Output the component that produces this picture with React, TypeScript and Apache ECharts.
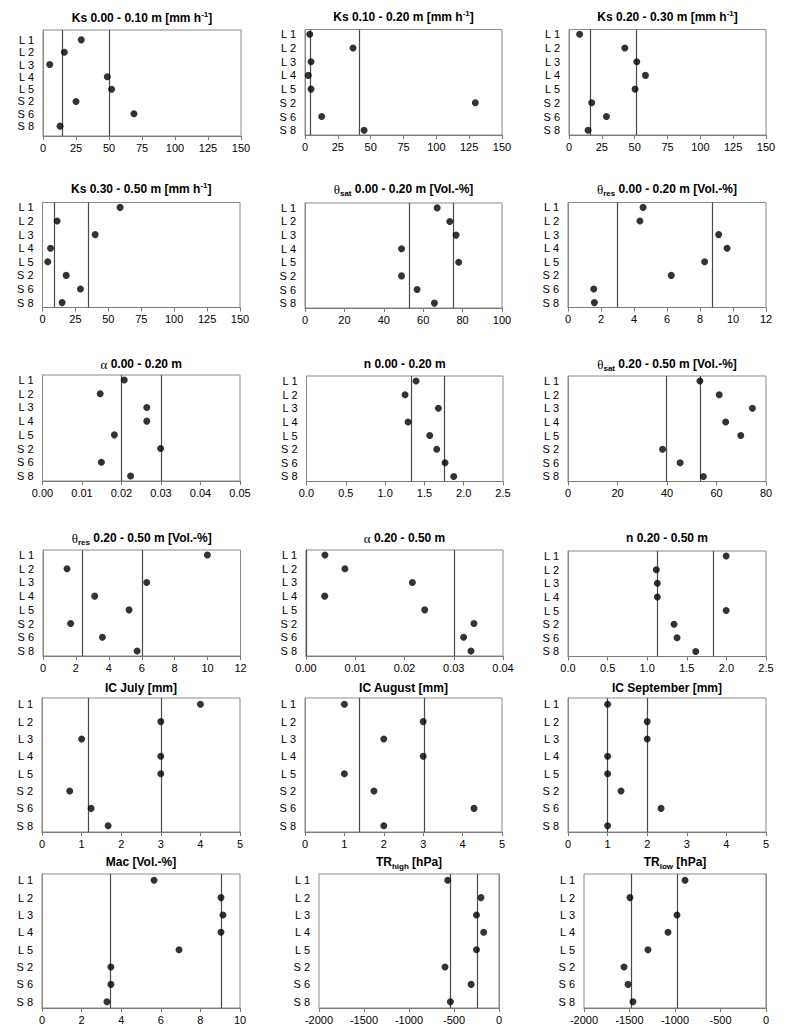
import React, { useEffect, useRef } from "react";
import * as echarts from "echarts";

const categories = ["L 1", "L 2", "L 3", "L 4", "L 5", "S 2", "S 6", "S 8"];

// values per panel (order of categories) and the two reference lines
const ks010 = [29.0, 16.2, 5.1, 48.7, 52.0, 25.0, 68.9, 12.9];
const ks010Lines = [14.9, 50.3];
const ks1020 = [3.6, 36.6, 4.6, 2.5, 4.6, 129.7, 12.7, 45.0];
const ks1020Lines = [4.1, 41.2];
const ks2030 = [8.1, 42.5, 51.6, 58.2, 50.3, 17.3, 28.5, 14.5];
const ks2030Lines = [16.3, 51.1];
const ks3050 = [58.9, 11.1, 40.0, 6.1, 4.0, 18.0, 28.8, 14.9];
const ks3050Lines = [9.1, 34.7];
const thetaSatTop = [67.1, 73.5, 76.7, 49.0, 78.0, 49.0, 56.9, 65.7];
const thetaSatTopLines = [53.0, 75.5];
const thetaResTop = [4.55, 4.36, 9.13, 9.64, 8.28, 6.26, 1.56, 1.6];
const thetaResTopLines = [2.97, 8.75];
const alphaTop = [0.0207, 0.0146, 0.0264, 0.0264, 0.0182, 0.0299, 0.0149, 0.0223];
const alphaTopLines = [0.0164, 0.0265];
const nTop = [1.394, 1.254, 1.678, 1.292, 1.568, 1.657, 1.763, 1.873];
const nTopLines = [1.335, 1.75];
const thetaSatSub = [53.3, 61.1, 74.5, 63.7, 69.8, 38.2, 45.3, 54.7];
const thetaSatSubLines = [39.5, 53.6];
const thetaResSub = [9.99, 1.46, 6.3, 3.14, 5.23, 1.68, 3.61, 5.72];
const thetaResSubLines = [2.37, 6.02];
const alphaSub = [0.00385, 0.0079, 0.0216, 0.0038, 0.0241, 0.0341, 0.032, 0.0335];
const alphaSubLines = [0.0046, 0.0264];
const nSub = [1.997, 1.115, 1.128, 1.128, 1.997, 1.339, 1.377, 1.613];
const nSubLines = [1.128, 1.833];
const icJuly = [4.0, 3.0, 1.0, 3.0, 3.0, 0.7, 1.24, 1.67];
const icJulyLines = [1.16, 3.0];
const icAugust = [1.0, 3.0, 2.0, 3.0, 1.0, 1.75, 4.29, 2.0];
const icAugustLines = [1.37, 3.02];
const icSeptember = [1.0, 2.0, 2.0, 1.0, 1.0, 1.34, 2.35, 1.0];
const icSeptemberLines = [1.0, 2.0];
const mac = [5.66, 9.04, 9.14, 9.04, 6.92, 3.48, 3.48, 3.28];
const macLines = [3.43, 9.04];
const trHigh = [-570, -200, -250, -170, -250, -600, -310, -540];
const trHighLines = [-545, -245];
const trLow = [-890, -1495, -978, -1077, -1297, -1560, -1516, -1462];
const trLowLines = [-1484, -978];

// titles (rich text)
const titles = [
  "{b|Ks 0.00 - 0.10 m [mm h}{sup|-1}{b|]}",
  "{b|Ks 0.10 - 0.20 m [mm h}{sup|-1}{b|]}",
  "{b|Ks 0.20 - 0.30 m [mm h}{sup|-1}{b|]}",
  "{b|Ks 0.30 - 0.50 m [mm h}{sup|-1}{b|]}",
  "{g|θ}{sub|sat}{b| 0.00 - 0.20 m [Vol.-%]}",
  "{g|θ}{sub|res}{b| 0.00 - 0.20 m [Vol.-%]}",
  "{g|α}{b| 0.00 - 0.20 m}",
  "{b|n 0.00 - 0.20 m}",
  "{g|θ}{sub|sat}{b| 0.20 - 0.50 m [Vol.-%]}",
  "{g|θ}{sub|res}{b| 0.20 - 0.50 m [Vol.-%]}",
  "{g|α}{b| 0.20 - 0.50 m}",
  "{b|n 0.20 - 0.50 m}",
  "{b|IC July [mm]}",
  "{b|IC August [mm]}",
  "{b|IC September [mm]}",
  "{b|Mac [Vol.-%]}",
  "{b|TR}{sub|high}{b| [hPa]}",
  "{b|TR}{sub|low}{b| [hPa]}",
];

const seriesValues = [
  ks010, ks1020, ks2030, ks3050, thetaSatTop, thetaResTop, alphaTop, nTop, thetaSatSub,
  thetaResSub, alphaSub, nSub, icJuly, icAugust, icSeptember, mac, trHigh, trLow,
];
const lineValues = [
  ks010Lines, ks1020Lines, ks2030Lines, ks3050Lines, thetaSatTopLines, thetaResTopLines,
  alphaTopLines, nTopLines, thetaSatSubLines, thetaResSubLines, alphaSubLines, nSubLines,
  icJulyLines, icAugustLines, icSeptemberLines, macLines, trHighLines, trLowLines,
];
// axis scales: [min, max, interval, decimals]
const xScales = [
  [0, 150, 25, 0], [0, 150, 25, 0], [0, 150, 25, 0],
  [0, 150, 25, 0], [0, 100, 20, 0], [0, 12, 2, 0],
  [0, 0.05, 0.01, 2], [0, 2.5, 0.5, 1], [0, 80, 20, 0],
  [0, 12, 2, 0], [0, 0.04, 0.01, 2], [0, 2.5, 0.5, 1],
  [0, 5, 1, 0], [0, 5, 1, 0], [0, 5, 1, 0],
  [0, 10, 2, 0], [-2000, 0, 500, 0], [-2000, 0, 500, 0],
];

// layout: plot rectangle [left, right, top, bottom], category padding, title y
const layout = [
  { r: [43, 241, 30, 136], pad: 0.8, ty: 18 },
  { r: [305, 502, 29.5, 135], pad: 0.35, ty: 17 },
  { r: [569, 766, 29.5, 135], pad: 0.35, ty: 17 },
  { r: [42.5, 240, 202.5, 307.5], pad: 0.36, ty: 189 },
  { r: [305, 502, 203, 308], pad: 0.36, ty: 189 },
  { r: [568, 766, 202.5, 307.5], pad: 0.36, ty: 189 },
  { r: [42.5, 240, 375, 481], pad: 0.37, ty: 364 },
  { r: [306.5, 503, 376, 481.5], pad: 0.37, ty: 364 },
  { r: [568, 766, 376, 481.5], pad: 0.37, ty: 364 },
  { r: [43, 240.5, 550, 656], pad: 0.37, ty: 538 },
  { r: [306, 503, 550, 656], pad: 0.37, ty: 538 },
  { r: [568, 766, 551, 656.5], pad: 0.37, ty: 538 },
  { r: [42, 240, 698, 832], pad: 0.36, ty: 688 },
  { r: [305, 502, 698, 832], pad: 0.36, ty: 688 },
  { r: [568, 766, 698, 832], pad: 0.36, ty: 688 },
  { r: [42, 240, 874, 1008], pad: 0.36, ty: 862 },
  { r: [319, 499, 874, 1008], pad: 0.36, ty: 862 },
  { r: [584, 766, 874, 1008], pad: 0.36, ty: 862 },
];

const FONT = "'Liberation Sans', Arial, sans-serif";

const rich = {
  b: { fontFamily: FONT, fontWeight: "bold", fontSize: 12, lineHeight: 16, fill: "#000", color: "#000" },
  g: { fontFamily: "'Liberation Serif', serif", fontSize: 13, lineHeight: 16, fill: "#000", color: "#000" },
  sup: { fontFamily: FONT, fontWeight: "bold", fontSize: 8, lineHeight: 8, verticalAlign: "top", fill: "#000", color: "#000" },
  sub: { fontFamily: FONT, fontWeight: "bold", fontSize: 8, lineHeight: 8, verticalAlign: "bottom", fill: "#000", color: "#000" },
};

export default function App() {
  const ref = useRef<HTMLDivElement>(null);
  useEffect(() => {
    if (!ref.current) return;
    const chart = echarts.init(ref.current, undefined, { renderer: "svg" });
    const grids: any[] = [];
    const xAxes: any[] = [];
    const yAxes: any[] = [];
    const series: any[] = [];
    const graphics: any[] = [];
    layout.forEach((L, i) => {
      const [l, r, t, b] = L.r;
      const [mn, mx, iv, dec] = xScales[i];
      grids.push({
        left: l, top: t, width: r - l, height: b - t,
        show: true, borderColor: "#8a8a8a", borderWidth: 1, backgroundColor: "transparent",
      });
      xAxes.push({
        type: "value", gridIndex: i, min: mn, max: mx, interval: iv,
        axisLine: { show: true, onZero: false, lineStyle: { color: "#7a7a7a", width: 1 } },
        axisTick: { show: true, inside: false, length: 4, lineStyle: { color: "#7a7a7a" } },
        splitLine: { show: false },
        axisLabel: {
          color: "#000", fontFamily: FONT, fontSize: 11, margin: 6,
          formatter: (v: number) => v.toFixed(dec),
        },
      });
      yAxes.push({
        type: "value", gridIndex: i, inverse: true, min: 1 - L.pad, max: categories.length + L.pad,
        axisLine: { show: true, lineStyle: { color: "#8a8a8a" } },
        axisTick: { show: false },
        splitLine: { show: false },
        axisLabel: {
          color: "#000", fontFamily: FONT, fontSize: 11, margin: 9,
          customValues: categories.map((_, k) => k + 1),
          formatter: (v: number) => categories[Math.round(v) - 1] ?? "",
        },
      });
      series.push({
        type: "scatter", xAxisIndex: i, yAxisIndex: i, z: 1, data: [],
        markLine: {
          silent: true, symbol: ["none", "none"], label: { show: false },
          lineStyle: { color: "#4a4a4a", type: "solid", width: 1.2 },
          data: lineValues[i].map((v) => ({ xAxis: v })),
        },
      });
      series.push({
        type: "scatter", xAxisIndex: i, yAxisIndex: i, z: 5,
        symbol: "circle", symbolSize: 7,
        itemStyle: { color: "#000" },
        data: seriesValues[i].map((v, k) => [v, k + 1]),
      });
      graphics.push({
        type: "text", x: (l + r) / 2, y: L.ty,
        style: {
          text: titles[i], rich, align: "center", verticalAlign: "middle",
          fill: "#000", font: `bold 12px ${FONT}`,
        },
      });
    });
    chart.setOption({
      animation: false,
      backgroundColor: "#fff",
      grid: grids,
      xAxis: xAxes,
      yAxis: yAxes,
      series,
      graphic: graphics,
    });
    return () => chart.dispose();
  }, []);
  return (
    <div
      ref={ref}
      style={{ position: "fixed", left: 0, top: 0, width: 800, height: 1032, background: "#fff" }}
    />
  );
}
